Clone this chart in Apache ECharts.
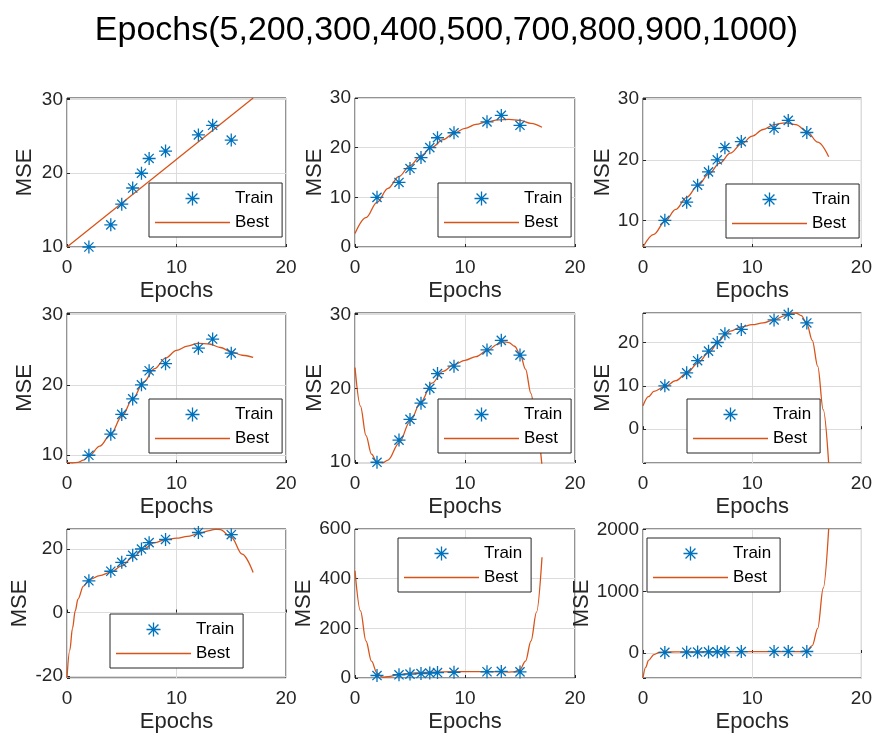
<!DOCTYPE html>
<html>
<head>
<meta charset="utf-8">
<script src="https://cdn.jsdelivr.net/npm/echarts@6/dist/echarts.min.js"></script>
<style>
  html, body { margin: 0; padding: 0; background: #fff; }
  #myCharts { width: 875px; height: 734px; }
</style>
</head>
<body>
<div id="myCharts"></div>
<script>
// training points (same in every panel)
var trainX = [2, 4, 5, 6, 6.8, 7.5, 9, 12, 13.3, 15];
var trainY = [10, 13, 15.8, 18, 20, 22, 23, 25.2, 26.5, 24.5];

// fitted "Best" curves as [epoch, mse]
var best1 = [[0, 10.0], [17, 30.2]];
var best2 = [[0, 2.7], [1, 5.9], [2, 9.0], [3, 11.8], [4, 14.2], [5, 16.4], [6, 18.4], [7, 20.1], [8, 21.6],
  [9, 22.9], [10, 23.9], [11, 24.7], [12, 25.2], [13, 25.6], [14, 25.7], [15, 25.5], [16, 24.9], [17, 24.1]];
var best3 = [[0, 5.6], [1, 7.7], [2, 9.8], [3, 11.8], [4, 13.8], [5, 15.7], [6, 17.6], [7, 19.4], [8, 21.1],
  [9, 22.6], [10, 23.9], [11, 25.0], [12, 25.8], [13, 26.1], [14, 25.8], [15, 24.7], [16, 22.9], [17, 20.5]];
var best4 = [[0, 9.0], [0.5, 8.9], [1, 9.0], [1.5, 9.3], [2, 9.9], [3, 11.3], [4, 13.0], [5, 15.5], [6, 18.0],
  [7, 20.4], [8, 22.3], [9, 23.8], [10, 24.9], [11, 25.5], [12, 25.9], [13, 25.8], [14, 25.3], [15, 24.7],
  [16, 24.2], [17, 23.9]];
var best5 = [[0, 22.8], [0.5, 17.6], [1, 13.6], [1.5, 11.1], [2, 10.0], [2.5, 9.9], [3, 10.3], [4, 12.6],
  [5, 15.5], [6, 18.2], [7, 20.7], [8, 22.3], [9, 23.2], [10, 23.8], [11, 24.3], [12, 25.1], [13, 26.0],
  [13.5, 26.3], [14, 26.2], [14.5, 25.7], [15, 24.7], [15.5, 22.6], [16, 19.3], [16.5, 14.8], [17, 9.5]];
var best6 = [[0, 5.4], [0.5, 7.5], [1, 8.7], [2, 9.8], [3, 11.2], [4, 12.9], [5, 15.2], [6, 17.6], [7, 20.4],
  [7.5, 21.7], [8, 22.6], [9, 23.6], [10, 24.1], [11, 24.5], [12, 25.2], [13, 26.2], [13.5, 26.7], [14, 26.8],
  [14.5, 26.2], [15, 24.3], [15.5, 20.5], [16, 14.5], [16.5, 4.5], [17, -7.8]];
var best7 = [[0, -20.5], [0.25, -12], [0.5, -5], [0.75, 0.5], [1, 4.2], [1.5, 8.3], [2, 10.3], [3, 11.6],
  [4, 12.7], [5, 14.7], [6, 17.4], [7, 20.0], [8, 22.0], [9, 23.0], [10, 23.4], [11, 24.0], [12, 24.8],
  [13, 25.8], [13.5, 26.2], [14, 26.1], [15, 23.7], [16, 18.4], [17, 12.6]];
var best8 = [[0, 432], [0.5, 270], [1, 149], [1.5, 68], [2, 20], [2.5, 3], [3, 5], [4, 14], [5, 19], [6, 22],
  [8, 25], [10, 26], [12, 26], [13, 25], [14, 24], [14.5, 25], [15, 34], [15.5, 68], [16, 149], [16.5, 265],
  [17, 486]];
var best9 = [[0, -405], [0.25, -230], [0.5, -120], [1, -25], [1.5, 8], [2, 15], [3, 18], [5, 20], [8, 23],
  [11, 24], [13, 24], [14, 22], [14.5, 24], [15, 40], [15.5, 120], [16, 400], [16.5, 1050], [17, 2010]];
var bestCurves = [best1, best2, best3, best4, best5, best6, best7, best8, best9];

// y axis limits and tick step of each panel
var yMin = [10, 0, 5.6, 8.9, 9.9, -7.8, -20.6, 0, -405];
var yMax = [30.2, 30, 30.2, 30.2, 30.2, 26.8, 26.3, 600, 2010];
var yStep = [10, 10, 10, 10, 10, 10, 20, 200, 1000];

var titleText = "Epochs(5,200,300,400,500,700,800,900,1000)";

// layout (px)
var colLeft = [67, 355, 643];
var colWidth = [219, 220, 220];
var rowTop = [98, 313, 529];
var rowHeight = [149, 150, 149];
var yNameGap = [31, 29, 29, 31, 29, 29, 36, 39, 47];
var legendPos = [[149, 183], [438, 183], [726, 184], [149, 399], [438, 399], [687, 399],
  [110, 614], [398, 538], [647, 538]];

var FONT = "'Liberation Sans', Arial, Helvetica, sans-serif";
var AXIS_COLOR = "#262626";
var BLUE = "#0072BD";
var ORANGE = "#D95319";
var STAR = "path://M0,-10L0,10M-10,0L10,0M-7.07,-7.07L7.07,7.07M-7.07,7.07L7.07,-7.07";

var trainPoints = trainX.map(function (x, i) { return [x, trainY[i]]; });

var grids = [], xAxes = [], yAxes = [], series = [], legends = [];

for (var i = 0; i < 9; i++) {
  var r = Math.floor(i / 3), c = i % 3;
  grids.push({
    left: colLeft[c], top: rowTop[r], width: colWidth[c], height: rowHeight[r],
    show: true, borderColor: AXIS_COLOR, borderWidth: 1, backgroundColor: "#fff"
  });
  xAxes.push({
    gridIndex: i, type: "value", min: 0, max: 20, interval: 10,
    name: "Epochs", nameLocation: "middle", nameGap: 33,
    nameTextStyle: { fontFamily: FONT, fontSize: 22, color: AXIS_COLOR },
    axisLine: { show: false },
    axisTick: { show: true, inside: true, length: 3, lineStyle: { color: AXIS_COLOR } },
    axisLabel: { fontFamily: FONT, fontSize: 19, color: AXIS_COLOR, margin: 11 },
    splitLine: { show: true, lineStyle: { color: "#dcdcdc", width: 1 } }
  });
  // min is not a multiple of the step in most panels, so let the scale
  // pick its ticks with the step pinned (ticks land on multiples of it)
  (function (step) {
    yAxes.push({
      gridIndex: i, type: "value", min: yMin[i], max: yMax[i],
      minInterval: step, maxInterval: step,
      name: "MSE", nameLocation: "middle", nameGap: yNameGap[i],
      nameTextStyle: { fontFamily: FONT, fontSize: 22, color: AXIS_COLOR },
      axisLine: { show: false },
      axisTick: { show: true, inside: true, length: 3, lineStyle: { color: AXIS_COLOR } },
      axisLabel: {
        fontFamily: FONT, fontSize: 19, color: AXIS_COLOR, margin: 4,
        showMinLabel: true, showMaxLabel: true,
        formatter: function (v) {
          var k = v / step;
          return Math.abs(k - Math.round(k)) < 1e-6 ? String(Math.round(v)) : "";
        }
      },
      splitLine: { show: true, lineStyle: { color: "#dcdcdc", width: 1 } }
    });
  })(yStep[i]);

  series.push({
    name: "Best", type: "line", xAxisIndex: i, yAxisIndex: i,
    data: bestCurves[i], symbol: "none", smooth: 0.35, smoothMonotone: "x",
    lineStyle: { color: ORANGE, width: 1.3 }, itemStyle: { color: ORANGE },
    clip: true, z: 2, silent: true
  });
  series.push({
    name: "Train", type: "scatter", xAxisIndex: i, yAxisIndex: i,
    data: trainPoints, symbol: STAR, symbolSize: 13,
    itemStyle: { color: "rgba(0,0,0,0)", borderColor: BLUE, borderWidth: 1.3, opacity: 1 },
    z: 3, silent: true
  });

  legends.push({
    left: legendPos[i][0], top: legendPos[i][1], orient: "vertical",
    backgroundColor: "#fff", borderColor: AXIS_COLOR, borderWidth: 1,
    padding: [7, 9, 6, 6], itemGap: 7, itemWidth: 75, itemHeight: 14,
    selectedMode: false,
    textStyle: { fontFamily: FONT, fontSize: 17, color: "#000" },
    data: [
      { name: "Train", icon: STAR, itemStyle: { color: "rgba(0,0,0,0)", borderColor: BLUE, borderWidth: 1.3 } },
      { name: "Best", icon: "path://M0,0L75,0L75,1.3L0,1.3Z", itemStyle: { color: ORANGE, borderWidth: 0 } }
    ]
  });
}

var chartOptions = {
  animation: false,
  backgroundColor: "#fff",
  // figure title, centred a little right of the page middle like the original
  graphic: [{
    type: "text", x: 446.5, y: 31, silent: true,
    style: {
      text: titleText, align: "center", verticalAlign: "middle",
      font: "normal 34px " + FONT, fill: "#000"
    }
  }],
  legend: legends,
  grid: grids,
  xAxis: xAxes,
  yAxis: yAxes,
  series: series
};

var myChart = echarts.init(document.getElementById("myCharts"));
myChart.setOption(chartOptions);
</script>
</body>
</html>
